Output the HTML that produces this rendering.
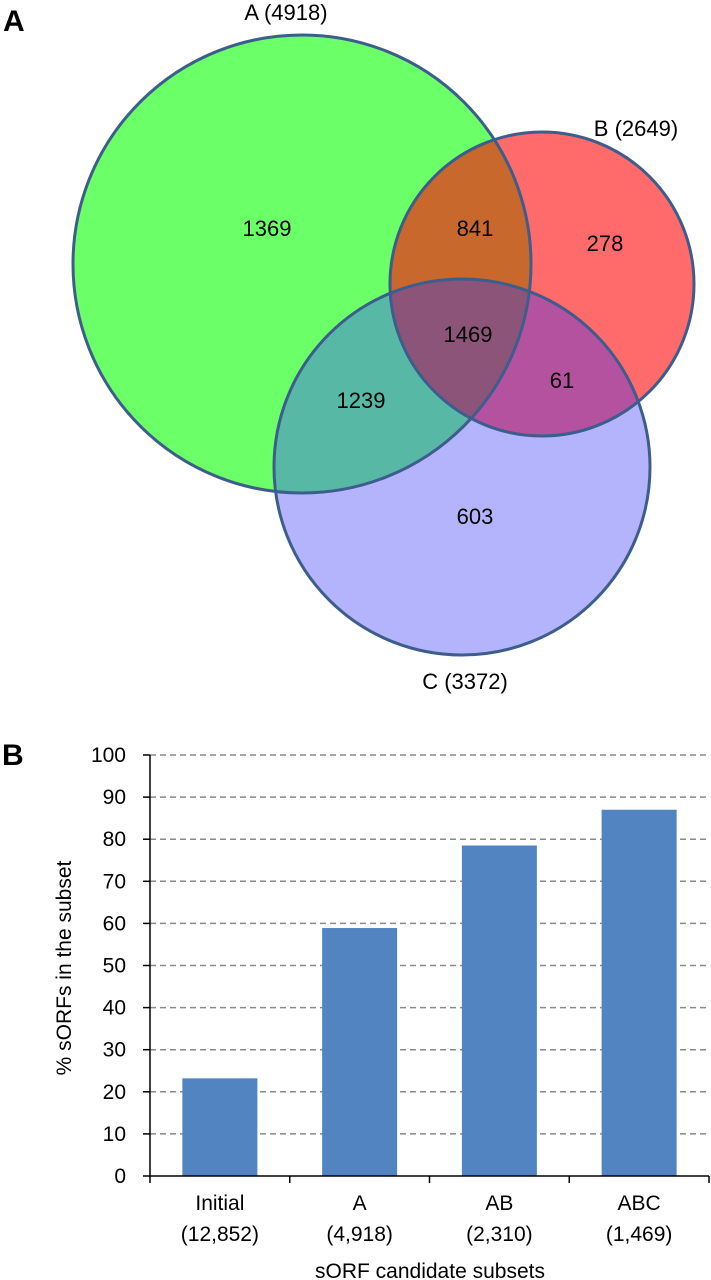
<!DOCTYPE html>
<html><head><meta charset="utf-8"><style>
html,body{margin:0;padding:0;background:#fff;}
svg{display:block;font-family:"Liberation Sans",Arial,sans-serif;}
</style></head><body>
<svg width="711" height="1280" viewBox="0 0 711 1280">
<defs>
<clipPath id="clipA"><circle cx="302" cy="264" r="229"/></clipPath>
<clipPath id="clipB"><circle cx="542" cy="284" r="152"/></clipPath>
<clipPath id="clipC"><circle cx="462" cy="467" r="188"/></clipPath>
</defs>
<text x="3" y="31" font-size="30" font-weight="bold">A</text>
<g>
<circle cx="302" cy="264" r="229" fill="#6bff68"/>
<circle cx="542" cy="284" r="152" fill="#ff6a6a"/>
<circle cx="462" cy="467" r="188" fill="#b4b4fd"/>
<circle cx="542" cy="284" r="152" fill="#c8682c" clip-path="url(#clipA)"/>
<circle cx="462" cy="467" r="188" fill="#58b8a6" clip-path="url(#clipA)"/>
<circle cx="462" cy="467" r="188" fill="#b452a0" clip-path="url(#clipB)"/>
<g clip-path="url(#clipA)"><circle cx="462" cy="467" r="188" fill="#8d5479" clip-path="url(#clipB)"/></g>
<circle cx="302" cy="264" r="229" fill="none" stroke="#3d5d8c" stroke-width="3"/>
<circle cx="542" cy="284" r="152" fill="none" stroke="#3d5d8c" stroke-width="3"/>
<circle cx="462" cy="467" r="188" fill="none" stroke="#3d5d8c" stroke-width="3"/>
<g font-size="22" text-anchor="middle" fill="#000">
<text x="286" y="20">A (4918)</text>
<text x="636" y="136">B (2649)</text>
<text x="465" y="689">C (3372)</text>
<text x="267" y="236">1369</text>
<text x="475" y="236">841</text>
<text x="605" y="251">278</text>
<text x="468" y="342">1469</text>
<text x="562" y="388">61</text>
<text x="361" y="408">1239</text>
<text x="475" y="524">603</text>
</g>
</g>
<text x="2" y="765" font-size="30" font-weight="bold">B</text>
<g id="chart"></g>
</svg>
<script>
const categories = ["Initial", "A", "AB", "ABC"];
const counts = ["(12,852)", "(4,918)", "(2,310)", "(1,469)"];
const values = [23.2, 58.9, 78.5, 87.0];
const yTicks = [0,10,20,30,40,50,60,70,80,90,100];

const NS = "http://www.w3.org/2000/svg";
const g = document.getElementById("chart");
const x0 = 150, x1 = 709, yTop = 755, yBot = 1176;
const yMax = 100;
function yScale(v){ return yBot - (v / yMax) * (yBot - yTop); }
function xBand(i){ return x0 + i * (x1 - x0) / categories.length; }
const bw = (x1 - x0) / categories.length;
function mk(tag, attrs){ const e = document.createElementNS(NS, tag); for (const k in attrs) e.setAttribute(k, attrs[k]); g.appendChild(e); return e; }

yTicks.forEach(t => {
  const y = yScale(t);
  if (t > 0) {
    const gl = mk("line", {x1: x0, x2: x1, y1: y, y2: y, stroke: "#8a8a8a", "stroke-width": 1.5, "stroke-dasharray": "6,4"});
    
    
  }
  const tk = mk("line", {x1: x0 - 7, x2: x0, y1: y, y2: y, stroke: "#000", "stroke-width": 1.5});
  
  
  const tl = mk("text", {x: 126, y: y + 7, "font-size": 21, "text-anchor": "end"});
  tl.textContent = t;
  
  
});

values.forEach((v, i) => {
  const cx = xBand(i) + bw / 2;
  const b = mk("rect", {x: cx - 37.5, y: yScale(v), width: 75, height: yBot - yScale(v), fill: "#5184c1"});
  
  
  const l1 = mk("text", {x: cx, y: 1210, "font-size": 21, "text-anchor": "middle"});
  l1.textContent = categories[i];
  
  
  const l2 = mk("text", {x: cx, y: 1241, "font-size": 21, "text-anchor": "middle"});
  l2.textContent = counts[i];
  
  
});
for (let i = 0; i <= categories.length; i++) {
  const t = mk("line", {x1: xBand(i), x2: xBand(i), y1: yBot, y2: yBot + 7, stroke: "#000", "stroke-width": 1.5});
  
  
}
const ya = mk("line", {x1: x0, x2: x0, y1: yTop, y2: yBot, stroke: "#000", "stroke-width": 1.5});


const xa = mk("line", {x1: x0, x2: x1, y1: yBot, y2: yBot, stroke: "#000", "stroke-width": 1.5});


const yt = mk("text", {x: 0, y: 0, "font-size": 21, "text-anchor": "middle", transform: "translate(71,968) rotate(-90)"});
yt.textContent = "% sORFs in the subset";


const xt = mk("text", {x: 430, y: 1278, "font-size": 21, "text-anchor": "middle"});
xt.textContent = "sORF candidate subsets";


</script>
</body></html>
